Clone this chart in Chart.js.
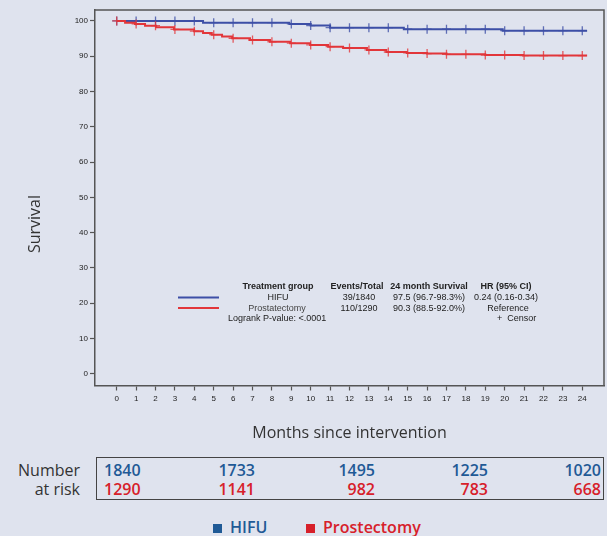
<!DOCTYPE html>
<html>
<head>
<meta charset="utf-8">
<script src="https://cdn.jsdelivr.net/npm/chart.js@4.4.1/dist/chart.umd.min.js"></script>
<style>
  body { margin: 0; background: #dfe3ee; width: 607px; height: 536px; position: relative; overflow: hidden; font-family: 'Open Sans', sans-serif; }
  #wrap { position: absolute; left: 0; top: 0; width: 607px; height: 450px; }
  .lbl { position: absolute; color: #333; font-size: 16px; line-height: 19px; text-align: right; }
  #risk { position: absolute; left: 96px; top: 457px; width: 506px; height: 41px; border: 1.5px solid #444; }
  .num { position: absolute; font-size: 16px; line-height: 19px; font-weight: 600; }
  .leg { position: absolute; top: 517px; font-size: 16px; line-height: 20px; font-weight: 600; }
  .sq { display: inline-block; width: 9px; height: 9px; margin-right: 8px; }
</style>
</head>
<body>
<div id="wrap"><canvas id="km-chart"></canvas></div>

<div class="lbl" style="left:0; width:80px; top:461px;">Number</div>
<div class="lbl" style="left:0; width:80px; top:480px;">at risk</div>
<div id="risk"></div>

<div class="leg" style="left:213px; color:#1f5a96;"><span class="sq" style="background:#1f5a96;"></span>HIFU</div>
<div class="leg" style="left:306px; color:#d7202a;"><span class="sq" style="background:#d7202a;"></span>Prostectomy</div>

<script>
/* values */
const xTicks = [0, 1, 2, 3, 4, 5, 6, 7, 8, 9, 10, 11, 12, 13, 14, 15, 16, 17, 18, 19, 20, 21, 22, 23, 24];
const yTicks = [0, 10, 20, 30, 40, 50, 60, 70, 80, 90, 100];
const censorMonths = [0, 1, 2, 3, 4, 5, 6, 7, 8, 9, 10, 11, 12, 13, 14, 15, 16, 17, 18, 19, 20, 21, 22, 23, 24];

const hifuTimes = [0, 4.45, 8.9, 10.0, 11.0, 14.8, 19.9, 24.25];
const hifuSurv  = [100, 99.5, 99.15, 98.7, 98.1, 97.65, 97.25, 97.25];

const prosTimes = [0, 0.43, 0.94, 1.46, 2.03, 2.95, 3.99, 4.45, 4.9, 5.43, 5.95, 6.87, 7.9, 8.94, 9.97, 10.9, 11.67, 12.9, 13.9, 14.95, 16.0, 17.0, 19.0, 20.95, 24.25];
const prosSurv  = [100, 99.5, 99.15, 98.67, 98.2, 97.6, 97.1, 96.6, 96.1, 95.6, 95.1, 94.6, 94.1, 93.7, 93.2, 92.7, 92.3, 91.8, 91.2, 90.95, 90.75, 90.55, 90.35, 90.2, 90.2];

const riskLeft = [104, 0, 0, 0, 0];        // first column is left aligned
const riskRight = [0, 254, 374, 487, 600]; // the rest right aligned
const hifuAtRisk = [1840, 1733, 1495, 1225, 1020];
const prosAtRisk = [1290, 1141, 982, 783, 668];

const blue = '#3d4fa6';
const red = '#e2363a';

/* step points plus a censor mark at each listed month */
function kmPoints(times, surv) {
    const pts = times.map((t, i) => ({x: t, y: surv[i], c: false}));
    for (const m of censorMonths) {
        let level = surv[0];
        times.forEach((t, i) => { if (t <= m) level = surv[i]; });
        pts.push({x: m, y: level, c: true});
    }
    return pts.sort((a, b) => a.x - b.x);
}

/* number at risk table */
const risk = document.getElementById('risk');
hifuAtRisk.forEach((v, i) => {
    for (const [val, top, col] of [[v, 3, '#1f5a96'], [prosAtRisk[i], 22, '#d7202a']]) {
        const d = document.createElement('div');
        d.className = 'num';
        d.textContent = val;
        d.style.color = col;
        d.style.top = top + 'px';
        if (i === 0) d.style.left = (riskLeft[i] - 97) + 'px';
        else d.style.right = (602 - riskRight[i]) + 'px';
        risk.appendChild(d);
    }
});

/* box round the plot + the little legend table + y title */
const decor = {
    id: 'decor',
    afterDraw(chart) {
        const ctx = chart.ctx;
        const a = chart.chartArea;
        ctx.save();
        ctx.strokeStyle = '#555';
        ctx.lineWidth = 1.5;
        ctx.beginPath();
        ctx.moveTo(a.left, a.top);
        ctx.lineTo(a.right, a.top);
        ctx.lineTo(a.right, a.bottom);
        ctx.stroke();

        // legend lines
        ctx.lineWidth = 2;
        ctx.strokeStyle = blue;
        ctx.beginPath(); ctx.moveTo(178, 297.5); ctx.lineTo(219, 297.5); ctx.stroke();
        ctx.strokeStyle = red;
        ctx.beginPath(); ctx.moveTo(178, 308); ctx.lineTo(219, 308); ctx.stroke();

        ctx.fillStyle = '#222';
        ctx.textAlign = 'center';
        ctx.textBaseline = 'middle';
        ctx.font = 'bold 9px "Liberation Sans", Arial, sans-serif';
        ctx.fillText('Treatment group', 278, 287);
        ctx.fillText('Events/Total', 357, 287);
        ctx.fillText('24 month Survival', 429, 287);
        ctx.fillText('HR (95% CI)', 506, 287);
        ctx.font = '9px "Liberation Sans", Arial, sans-serif';
        ctx.fillText('HIFU', 278, 298);
        ctx.fillText('39/1840', 359, 298);
        ctx.fillText('97.5 (96.7-98.3%)', 429, 298);
        ctx.fillText('0.24 (0.16-0.34)', 506, 298);
        ctx.fillStyle = '#444';
        ctx.fillText('Prostatectomy', 277, 308.5);
        ctx.fillStyle = '#222';
        ctx.fillText('110/1290', 359, 308.5);
        ctx.fillText('90.3 (88.5-92.0%)', 429, 308.5);
        ctx.fillText('Reference', 508, 308.5);
        ctx.textAlign = 'left';
        ctx.fillText('Logrank P-value: <.0001', 228, 319);
        ctx.fillText('+  Censor', 497, 319);

        // y axis title, sits a bit below the axis middle in the figure
        ctx.translate(35, 224);
        ctx.rotate(-Math.PI / 2);
        ctx.textAlign = 'center';
        ctx.fillStyle = '#333';
        ctx.font = '16px "Open Sans", sans-serif';
        ctx.fillText('Survival', 0, 0);
        ctx.restore();
    }
};

function curve(label, times, surv, color, order) {
    return {
        label: label,
        data: kmPoints(times, surv),
        borderColor: color,
        borderWidth: 2,
        stepped: 'before',
        fill: false,
        order: order,
        pointStyle: 'cross',
        pointRadius: ctx => (ctx.raw && ctx.raw.c ? 4.5 : 0),
        pointBorderColor: color + 'cc',
        pointBorderWidth: 1.3,
        pointHoverRadius: 0
    };
}

const tickFont = {family: '"Liberation Sans", Arial, sans-serif', size: 8};

new Chart(document.getElementById('km-chart'), {
    type: 'line',
    data: {
        datasets: [
            curve('HIFU', hifuTimes, hifuSurv, blue, 1),
            curve('Prostatectomy', prosTimes, prosSurv, red, 0)
        ]
    },
    options: {
        responsive: true,
        maintainAspectRatio: false,
        animation: false,
        layout: {padding: {top: 10, right: 3, left: 0, bottom: 0}},
        plugins: {legend: {display: false}, tooltip: {enabled: false}},
        scales: {
            x: {
                type: 'linear',
                min: -1.12,
                max: 25.12,
                afterBuildTicks: s => { s.ticks = xTicks.map(v => ({value: v})); },
                afterFit: s => { s.height = 64.5; },
                ticks: {font: tickFont, color: '#222', padding: 3, maxRotation: 0, autoSkip: false},
                grid: {drawOnChartArea: false, tickLength: 5, tickColor: '#555', tickWidth: 1.2},
                border: {color: '#555', width: 1.5},
                title: {
                    display: true,
                    text: 'Months since intervention',
                    color: '#333',
                    font: {family: '"Open Sans", sans-serif', size: 16},
                    padding: {top: 0, bottom: 7.4}
                }
            },
            y: {
                min: -3.3,
                max: 103.1,
                afterBuildTicks: s => { s.ticks = yTicks.map(v => ({value: v})); },
                afterFit: s => { s.width = 95; },
                ticks: {font: tickFont, color: '#222', padding: 2},
                grid: {drawOnChartArea: false, tickLength: 5, tickColor: '#555', tickWidth: 1.2},
                border: {color: '#555', width: 1.5}
            }
        }
    },
    plugins: [decor]
});
</script>
</body>
</html>
